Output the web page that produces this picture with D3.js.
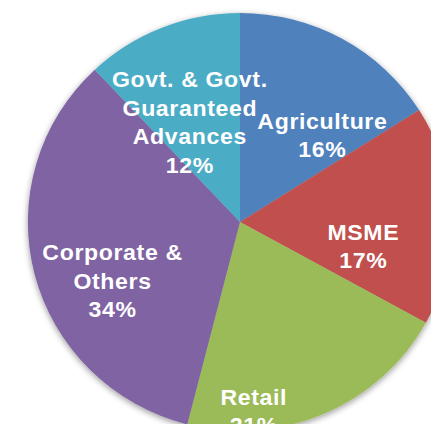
<!DOCTYPE html>
<html>
<head>
<meta charset="utf-8">
<script src="https://cdn.jsdelivr.net/npm/d3@7"></script>
<style>
  html, body { margin: 0; padding: 0; background: #fff; overflow: hidden; }
  svg { display: block; }
</style>
</head>
<body>
<div id="chart"></div>
<script>
// loan book split, in percent, clockwise from 12 o'clock
const categories = ["Agriculture", "MSME", "Retail", "Corporate & Others", "Govt. & Govt. Guaranteed Advances"];
const values = [16, 17, 21, 34, 12];
const labelLines = [
  ["Agriculture"],
  ["MSME"],
  ["Retail"],
  ["Corporate &", "Others"],
  ["Govt. & Govt.", "Guaranteed", "Advances"]
];

const width = 431, height = 424;
const cx = 240, cy = 222, radius = 209;
const lineH = 28.5, fontSize = 22;

const colors = d3.scaleOrdinal()
  .domain(categories)
  .range(["#4f81bd", "#c0504d", "#9bbb59", "#8064a2", "#4bacc6"]);

// excel "best fit" moves labels off the plain centroid, so nudge them
const labelNudge = {
  "Agriculture": [22, 23],
  "MSME": [-2, 28],
  "Retail": [-36, 74],
  "Corporate & Others": [-6, 28],
  "Govt. & Govt. Guaranteed Advances": [-4, 17]
};

const data = categories.map((c, i) => ({cat: c, value: values[i], lines: labelLines[i]}));

const svg = d3.select("#chart").append("svg")
  .attr("width", width)
  .attr("height", height);

const defs = svg.append("defs");
defs.append("filter")
  .attr("id", "shade")
  .attr("x", "-20%").attr("y", "-20%")
  .attr("width", "140%").attr("height", "140%")
  .append("feDropShadow")
  .attr("dx", 0).attr("dy", 2)
  .attr("stdDeviation", 3)
  .attr("flood-color", "#000")
  .attr("flood-opacity", 0.4);

const pie = d3.pie().sort(null).value(d => d.value);
const arcs = pie(data);

const arc = d3.arc().innerRadius(0).outerRadius(radius);
const labelArc = d3.arc().innerRadius(radius * 0.6).outerRadius(radius * 0.6);

const g = svg.append("g").attr("transform", `translate(${cx},${cy})`);

// source pie is a touch wider than tall
g.append("g")
  .attr("filter", "url(#shade)")
  .attr("transform", "scale(1.015,1)")
  .selectAll("path")
  .data(arcs)
  .enter().append("path")
  .attr("d", arc)
  .attr("fill", d => colors(d.data.cat));

// the source text is rendered a bit wide, so stretch it sideways
const labels = g.selectAll("text.lbl")
  .data(arcs)
  .enter().append("text")
  .attr("class", "lbl")
  .attr("text-anchor", "middle")
  .attr("fill", "#fff")
  .style("font-family", "'Liberation Sans', Arial, sans-serif")
  .style("font-weight", "bold")
  .style("font-size", fontSize + "px")
  .style("letter-spacing", "0.6px")
  .attr("transform", d => {
    const c = labelArc.centroid(d);
    const n = labelNudge[d.data.cat];
    return `translate(${c[0] + n[0]},${c[1] + n[1]}) scale(1.05,1)`;
  });

labels.each(function(d) {
  const lines = d.data.lines.concat([d.data.value + "%"]);
  const first = -(lines.length - 1) * lineH / 2 + fontSize * 0.35;
  d3.select(this).selectAll("tspan")
    .data(lines)
    .enter().append("tspan")
    .attr("x", 0)
    .attr("y", (t, i) => first + i * lineH)
    .text(t => t);
});
</script>
</body>
</html>
